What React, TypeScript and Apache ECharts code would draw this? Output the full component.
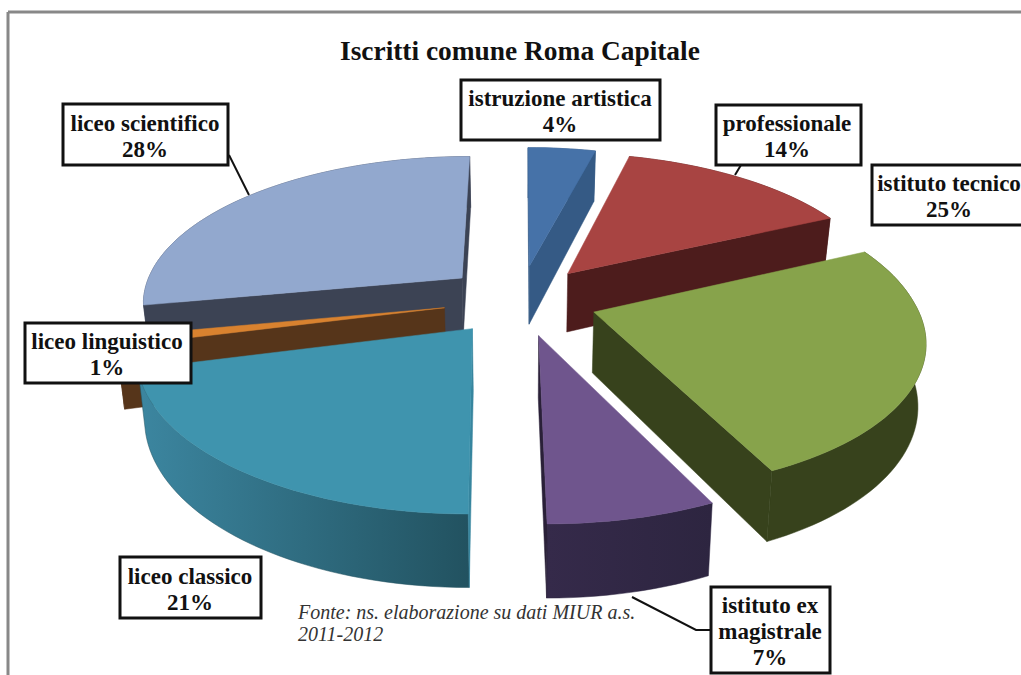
import React, { useEffect, useRef } from "react";
import * as echarts from "echarts";

const titleText = "Iscritti comune Roma Capitale";
const sourceLines = ["Fonte: ns. elaborazione su dati MIUR a.s.", "2011-2012"];
const sliceNames = ["istruzione artistica", "professionale", "istituto tecnico", "istituto ex\nmagistrale", "liceo classico", "liceo linguistico", "liceo scientifico"];
const sliceValues = [4, 14, 25, 7, 21, 1, 28];
const topColors = ["#4672A8", "#A84442", "#87A34B", "#6F558D", "#3F94AE", "#D9822F", "#92A8CE"];
const rimColors = [["#3A6494", "#2F5580"], ["#5A2222", "#4D1C1C"], ["#37421C", "#37421C"], ["#352A4A", "#2D2540"], ["#3C86A0", "#225260"], ["#56351A", "#56351A"], ["#3C4354", "#3C4354"]];
const sideColors = ["#355A85", "#4D1C1C", "#37421C", "#2A2038", "#37859E", "#56351A", "#3C4354"];
const drawOrder = [6, 0, 1, 5, 2, 4, 3];

const CX = 520, CY = 300, EXPLODE = 77, RADIUS = 321, DIST = 2070, TILT = 0.457, HEIGHT = 60, SHRINK = 0.98, SHEAR = 0.016;
const total = sliceValues.reduce((a, b) => a + b, 0);
const starts: number[] = [];
sliceValues.reduce((acc, v, i) => { starts[i] = acc; return acc + v; }, 0);

function project(X: number, Y: number, down: number) {
  const p = 1 / (1 - Y / DIST);
  const x = CX + X * p + SHEAR * Math.max(Y, 0);
  const y = CY + TILT * Y * p;
  if (!down) return [x, y];
  return [CX + (x - CX) * SHRINK, y + HEIGHT * p];
}

function renderSlice(params: any) {
  const i = drawOrder[params.dataIndex];
  const a0 = (starts[i] / total) * 2 * Math.PI;
  const a1 = ((starts[i] + sliceValues[i]) / total) * 2 * Math.PI;
  const mid = (a0 + a1) / 2;
  const ox = EXPLODE * Math.sin(mid);
  const oy = -EXPLODE * Math.cos(mid);
  const steps = Math.max(4, Math.round(sliceValues[i] * 2));
  const rimTop: number[][] = [];
  const rimBottom: number[][] = [];
  for (let k = 0; k <= steps; k++) {
    const a = a0 + ((a1 - a0) * k) / steps;
    const X = ox + RADIUS * Math.sin(a);
    const Y = oy - RADIUS * Math.cos(a);
    rimTop.push(project(X, Y, 0));
    rimBottom.push(project(X, Y, 1));
  }
  const apexTop = project(ox, oy, 0);
  const apexBottom = project(ox, oy, 1);
  const area = (pts: number[][]) => pts.reduce((s, p, n) => {
    const q = pts[(n + 1) % pts.length];
    return s + p[0] * q[1] - q[0] * p[1];
  }, 0);
  const children: any[] = [];
  const grad = new echarts.graphic.LinearGradient(0, 0, 1, 0, [
    { offset: 0, color: rimColors[i][0] },
    { offset: 1, color: rimColors[i][1] },
  ]);
  children.push({
    type: "polygon",
    shape: { points: [...rimTop, ...rimBottom.slice().reverse()] },
    style: { fill: grad, stroke: rimColors[i][1], lineWidth: 0.5 },
  });
  const startWall = [apexTop, rimTop[0], rimBottom[0], apexBottom];
  const endWall = [apexTop, rimTop[steps], rimBottom[steps], apexBottom];
  const wallStyle = { fill: sideColors[i], stroke: sideColors[i], lineWidth: 0.5 };
  if (area(startWall) < 0) children.push({ type: "polygon", shape: { points: startWall }, style: wallStyle });
  if (area(endWall) > 0) children.push({ type: "polygon", shape: { points: endWall }, style: wallStyle });
  children.push({
    type: "polygon",
    shape: { points: [apexTop, ...rimTop] },
    style: { fill: topColors[i], stroke: topColors[i], lineWidth: 0.5 },
  });
  return { type: "group", children };
}

const FONT = '"Liberation Serif"';
const boxes = [
  { x: 461, y: 80, w: 199, h: 60 },
  { x: 716, y: 105, w: 145, h: 60 },
  { x: 872, y: 165, w: 170, h: 60 },
  { x: 711, y: 587, w: 119, h: 86 },
  { x: 120, y: 557, w: 141, h: 61 },
  { x: 25, y: 323, w: 166, h: 60 },
  { x: 63, y: 104, w: 165, h: 61 },
];
const textCenterX = [560, 787, 949, 770, 190, 107, 145];
const leaders = [
  [[229, 155], [249, 195]],
  [[741, 165], [735, 175]],
  [[632, 597], [696, 630], [710, 630]],
];

function labelGraphics() {
  const out: any[] = [];
  leaders.forEach((pts) => out.push({
    type: "polyline", z: 20, shape: { points: pts }, style: { fill: "none", stroke: "#111", lineWidth: 2 },
  }));
  sliceNames.forEach((name, i) => {
    const b = boxes[i];
    out.push({
      type: "rect", z: 21, shape: { x: b.x, y: b.y, width: b.w, height: b.h },
      style: { fill: "#fff", stroke: "#111", lineWidth: 3 },
    });
    out.push({
      type: "text", z: 22, x: textCenterX[i], y: b.y + b.h / 2 + 1.5,
      style: {
        text: name + "\n" + sliceValues[i] + "%",
        fill: "#111", font: `bold 23px ${FONT}`, align: "center", verticalAlign: "middle", lineHeight: 26,
      },
    });
  });
  sourceLines.forEach((line, i) => {
    out.push({
      type: "text", z: 22, x: 298, y: 612 + i * 22,
      style: { text: line, fill: "#333", font: `italic 20px ${FONT}`, align: "left", verticalAlign: "middle" },
    });
  });
  out.push({ type: "line", z: 1, shape: { x1: 8, y1: 12, x2: 1021, y2: 12 }, style: { stroke: "#888", lineWidth: 3 } });
  out.push({ type: "line", z: 1, shape: { x1: 8, y1: 12, x2: 8, y2: 675 }, style: { stroke: "#888", lineWidth: 3 } });
  return out;
}

export default function App() {
  const ref = useRef<HTMLDivElement>(null);
  useEffect(() => {
    document.body.style.margin = "0";
    const chart = echarts.init(ref.current!, undefined, { renderer: "svg" });
    chart.setOption({
      animation: false,
      backgroundColor: "#fff",
      title: {
        text: titleText, left: 335, top: 32,
        textStyle: { fontFamily: FONT, fontWeight: "bold", fontSize: 27.4, color: "#111" },
      },
      series: [{
        type: "custom",
        coordinateSystem: "none",
        silent: true,
        renderItem: renderSlice,
        data: drawOrder.map((i) => ({ name: sliceNames[i], value: sliceValues[i] })),
      }],
      graphic: { elements: labelGraphics() },
    });
    return () => chart.dispose();
  }, []);
  return <div ref={ref} style={{ width: 1021, height: 675 }} />;
}
